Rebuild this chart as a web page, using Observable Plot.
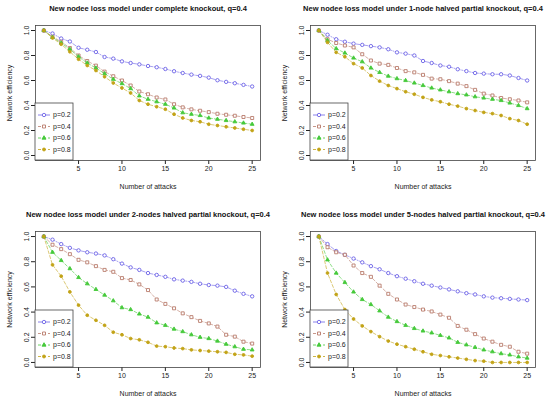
<!DOCTYPE html>
<html>
<head>
<meta charset="utf-8">
<script src="https://cdn.jsdelivr.net/npm/d3@7"></script>
<script src="https://cdn.jsdelivr.net/npm/@observablehq/plot@0.6"></script>
<style>
  body { margin: 0; background: #fff; }
  #grid { display: grid; grid-template-columns: 275px 275px; width: 550px; }
  #grid svg { display: block; }
</style>
</head>
<body>
<div id="grid"></div>
<script>
const attacks = d3.range(1, 26)
const pLevels = ['p=0.2', 'p=0.4', 'p=0.6', 'p=0.8']
const titles = [
  'New nodee loss model under complete knockout, q=0.4',
  'New nodee loss model under 1-node halved partial knockout, q=0.4',
  'New nodee loss model under 2-nodes halved partial knockout, q=0.4',
  'New nodee loss model under 5-nodes halved partial knockout, q=0.4'
]

// complete knockout
const complete02 = [1.0, 0.976, 0.936, 0.912, 0.862, 0.846, 0.828, 0.788, 0.775, 0.753, 0.74, 0.729, 0.716, 0.706, 0.692, 0.674, 0.66, 0.647, 0.637, 0.623, 0.602, 0.589, 0.578, 0.565, 0.552]
const complete04 = [1.0, 0.95, 0.91, 0.86, 0.80, 0.756, 0.719, 0.671, 0.634, 0.60, 0.56, 0.512, 0.49, 0.464, 0.448, 0.41, 0.385, 0.369, 0.358, 0.347, 0.334, 0.326, 0.318, 0.308, 0.30]
const complete06 = [1.0, 0.945, 0.90, 0.85, 0.79, 0.74, 0.70, 0.655, 0.61, 0.575, 0.535, 0.477, 0.45, 0.43, 0.41, 0.38, 0.342, 0.33, 0.32, 0.30, 0.29, 0.28, 0.27, 0.26, 0.25]
const complete08 = [1.0, 0.94, 0.89, 0.83, 0.77, 0.72, 0.68, 0.63, 0.58, 0.54, 0.50, 0.44, 0.41, 0.39, 0.37, 0.33, 0.30, 0.28, 0.27, 0.25, 0.24, 0.23, 0.22, 0.21, 0.20]

// 1-node halved partial knockout
const one02 = [1.0, 0.966, 0.93, 0.91, 0.895, 0.885, 0.875, 0.865, 0.85, 0.825, 0.815, 0.80, 0.756, 0.74, 0.72, 0.71, 0.69, 0.675, 0.66, 0.655, 0.65, 0.65, 0.64, 0.62, 0.60]
const one04 = [1.0, 0.93, 0.90, 0.88, 0.865, 0.81, 0.76, 0.735, 0.725, 0.70, 0.675, 0.665, 0.645, 0.615, 0.61, 0.595, 0.575, 0.555, 0.525, 0.495, 0.48, 0.46, 0.45, 0.44, 0.425]
const one06 = [1.0, 0.92, 0.855, 0.82, 0.78, 0.75, 0.70, 0.665, 0.635, 0.615, 0.60, 0.58, 0.56, 0.54, 0.525, 0.51, 0.495, 0.485, 0.47, 0.46, 0.45, 0.44, 0.42, 0.40, 0.375]
const one08 = [1.0, 0.905, 0.825, 0.79, 0.735, 0.70, 0.64, 0.595, 0.56, 0.535, 0.51, 0.49, 0.465, 0.445, 0.43, 0.41, 0.395, 0.375, 0.36, 0.345, 0.335, 0.32, 0.295, 0.28, 0.25]

// 2-nodes halved partial knockout
const two02 = [1.0, 0.975, 0.94, 0.91, 0.89, 0.875, 0.865, 0.85, 0.82, 0.785, 0.755, 0.735, 0.71, 0.695, 0.68, 0.66, 0.65, 0.64, 0.625, 0.615, 0.61, 0.60, 0.57, 0.545, 0.525]
const two04 = [1.0, 0.935, 0.90, 0.86, 0.815, 0.795, 0.765, 0.735, 0.72, 0.67, 0.655, 0.62, 0.575, 0.50, 0.465, 0.43, 0.39, 0.36, 0.33, 0.31, 0.285, 0.22, 0.205, 0.165, 0.15]
const two06 = [1.0, 0.875, 0.81, 0.745, 0.675, 0.625, 0.58, 0.535, 0.49, 0.435, 0.42, 0.385, 0.36, 0.315, 0.295, 0.265, 0.245, 0.22, 0.20, 0.19, 0.17, 0.145, 0.125, 0.105, 0.10]
const two08 = [1.0, 0.775, 0.685, 0.56, 0.455, 0.375, 0.335, 0.295, 0.24, 0.22, 0.19, 0.18, 0.16, 0.13, 0.125, 0.115, 0.11, 0.10, 0.095, 0.09, 0.085, 0.08, 0.065, 0.06, 0.05]

// 5-nodes halved partial knockout
const five02 = [1.0, 0.94, 0.885, 0.855, 0.825, 0.795, 0.765, 0.74, 0.71, 0.685, 0.665, 0.645, 0.625, 0.61, 0.595, 0.58, 0.565, 0.55, 0.54, 0.525, 0.515, 0.51, 0.505, 0.50, 0.495]
const five04 = [1.0, 0.915, 0.875, 0.855, 0.77, 0.71, 0.68, 0.61, 0.545, 0.50, 0.46, 0.44, 0.42, 0.405, 0.38, 0.355, 0.29, 0.26, 0.225, 0.19, 0.165, 0.14, 0.125, 0.085, 0.07]
const five06 = [1.0, 0.815, 0.71, 0.635, 0.56, 0.50, 0.46, 0.41, 0.36, 0.325, 0.295, 0.27, 0.25, 0.235, 0.215, 0.195, 0.16, 0.14, 0.12, 0.10, 0.085, 0.07, 0.06, 0.045, 0.035]
const five08 = [1.0, 0.71, 0.54, 0.42, 0.345, 0.29, 0.245, 0.205, 0.17, 0.145, 0.125, 0.105, 0.085, 0.065, 0.055, 0.045, 0.035, 0.025, 0.015, 0.01, 0.0, 0.0, 0.0, 0.0, 0.0]

const xTicks = [5, 10, 15, 20, 25]
const yTicks = [0, 0.2, 0.4, 0.6, 0.8, 1.0]

// styles per series
const colors = ['#6c62e6', '#b97c6c', '#45c93a', '#c2a316']
const symbols = ['circle', 'square', 'triangle', 'circle']
const filled = [false, false, true, true]
const dashes = ['4,1.5,1,1.5', '3,2', '3,2', '3,2']
const d3Symbols = [d3.symbolCircle, d3.symbolSquare, d3.symbolTriangle, d3.symbolCircle]

const font = 'Liberation Sans, Arial, Helvetica, sans-serif'

function panel(title, series, top) {
  const rows = series.flatMap((vals, k) => vals.map((v, i) => ({x: attacks[i], y: v, p: pLevels[k]})))
  const marks = [
    Plot.axisX({ticks: xTicks, tickSize: 4, tickPadding: 2, label: 'Number of attacks',
      labelAnchor: 'center', labelArrow: 'none', labelOffset: 28, fontSize: 7}),
    Plot.axisY({ticks: yTicks, tickFormat: '.1f', tickSize: 4, tickPadding: 3, tickRotate: -90,
      label: 'Network efficiency', labelAnchor: 'center', labelArrow: 'none', labelOffset: 28, fontSize: 7})
  ]
  pLevels.forEach((p, k) => {
    const sub = rows.filter(d => d.p === p)
    marks.push(Plot.line(sub, {x: 'x', y: 'y', stroke: colors[k], strokeWidth: 0.8,
      strokeDasharray: dashes[k], strokeOpacity: 0.75}))
    marks.push(Plot.dot(sub, {x: 'x', y: 'y', stroke: colors[k], symbol: () => symbols[k],
      fill: filled[k] ? colors[k] : 'white', r: filled[k] ? 1.4 : 1.7, strokeWidth: 0.9}))
  })
  marks.push(Plot.frame({stroke: '#444', strokeWidth: 0.8}))
  marks.push(Plot.text([title], {frameAnchor: 'top', dy: -17, lineAnchor: 'middle',
    fontWeight: 'bold', fontSize: 7.5, fill: '#111'}))

  const chart = Plot.plot({
    width: 275,
    height: 200,
    marginLeft: 35,
    marginRight: 15,
    marginTop: top ? 25 : 31,
    marginBottom: top ? 40 : 33,
    x: {domain: [0.04, 25.96]},
    y: {domain: [-0.04, 1.04]},
    symbol: {type: 'identity'},
    style: {fontFamily: font, fontSize: '7px', color: '#222', background: 'white'},
    marks
  })

  // legend box in lower-left corner, like R's legend("bottomleft")
  const [x0] = chart.scale('x').range
  const [y0] = chart.scale('y').range
  const g = d3.select(chart).append('g').attr('text-anchor', 'start')
  g.append('rect').attr('x', x0).attr('y', y0 - 57).attr('width', 38).attr('height', 57)
    .attr('fill', 'white').attr('stroke', '#444').attr('stroke-width', 0.8)
  pLevels.forEach((p, k) => {
    const yy = y0 - 57 + 12 + k * 11.5
    g.append('line').attr('x1', x0 + 3).attr('x2', x0 + 15).attr('y1', yy).attr('y2', yy)
      .attr('stroke', colors[k]).attr('stroke-width', 0.8).attr('stroke-dasharray', dashes[k])
    g.append('path').attr('d', d3.symbol(d3Symbols[k], filled[k] ? 7 : 9)())
      .attr('transform', `translate(${x0 + 9},${yy})`)
      .attr('fill', filled[k] ? colors[k] : 'white').attr('stroke', colors[k]).attr('stroke-width', 0.9)
    g.append('text').attr('x', x0 + 18).attr('y', yy).attr('dy', '0.35em')
      .attr('text-anchor', 'start').attr('font-size', 7).attr('fill', '#222').text(p)
  })
  return chart
}

const grid = d3.select('#grid')
const allSeries = [
  [complete02, complete04, complete06, complete08],
  [one02, one04, one06, one08],
  [two02, two04, two06, two08],
  [five02, five04, five06, five08]
]
allSeries.forEach((s, i) => grid.append(() => panel(titles[i], s, i < 2)))
</script>
</body>
</html>
